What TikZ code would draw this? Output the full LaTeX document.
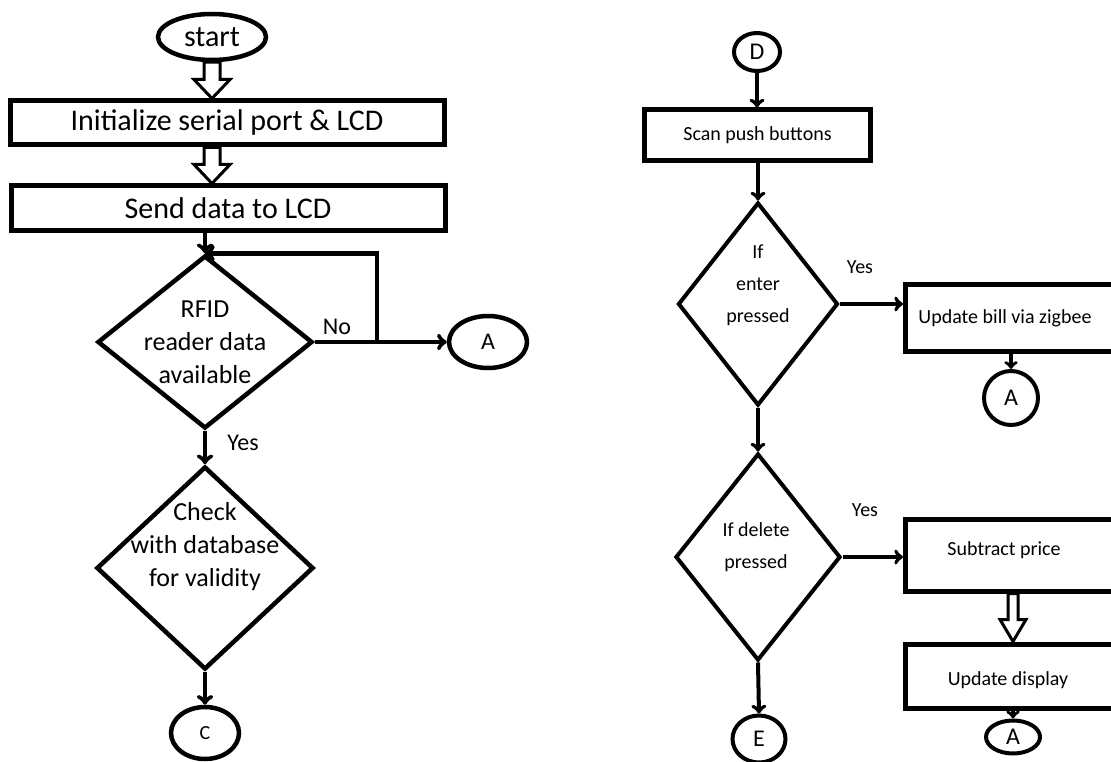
\documentclass[tikz,border=0pt]{standalone}
\usepackage{fontspec}
\setmainfont{Carlito}
\usetikzlibrary{shapes.geometric}

\newcommand{\hollowarrow}[5]{%
  \draw[hollow] ([xshift=-#3]#1) -- ([xshift=-#3,yshift=#5]#2) -- ([xshift=-#4,yshift=#5]#2)
    -- (#2) -- ([xshift=#4,yshift=#5]#2) -- ([xshift=#3,yshift=#5]#2) -- ([xshift=#3]#1) -- cycle;}

\begin{document}
\begin{tikzpicture}[x=1pt,y=-1pt,
  big/.style={font=\fontsize{30}{36}\selectfont},
  mid/.style={font=\fontsize{26}{33}\selectfont},
  lbl/.style={font=\fontsize{24}{30}\selectfont},
  small/.style={font=\fontsize{20}{32}\selectfont},
  terminal/.style={draw,ellipse,line width=4.5pt,inner sep=0pt},
  process/.style={draw,rectangle,line width=5pt,inner sep=0pt},
  decision/.style={draw,diamond,line width=4.5pt,inner sep=0pt},
  flow/.style={->,line width=4.5pt},
  hollow/.style={line width=3pt,line join=miter}]
\useasboundingbox (0,0) rectangle (1111,762);
\clip (0,0) rectangle (1111,762);

\node[terminal,big,minimum width=108,minimum height=46] (start) at (212,37) {start};
\node[process,big,minimum width=434,minimum height=44] (init) at (227,123) {Initialize serial port \& LCD};
\node[process,big,minimum width=434,minimum height=45] (send) at (228,208.5) {Send data to LCD};
\node[decision,minimum width=215,minimum height=173] (rfid) at (205,342) {};
\node[mid,align=center] (rfidtxt) at (205,342) {RFID\\reader data\\available};
\node[terminal,lbl,minimum width=78,minimum height=52] (aL) at (488,342) {A};
\coordinate (jn) at (377,342);
\node[lbl] (no) at (337,327) {No};
\node[lbl] (yes1) at (243,443) {Yes};
\node[decision,minimum width=217,minimum height=203] (check) at (205,568) {};
\node[mid,align=center] (checktxt) at (205,547) {Check\\with database\\for validity};
\node[terminal,small,minimum width=68,minimum height=52] (cL) at (205,733) {C};

\node[terminal,lbl,line width=4pt,minimum width=46,minimum height=38] (dD) at (757,52) {D};
\node[process,small,minimum width=226,minimum height=51] (scan) at (757.5,135.5) {Scan push buttons};
\node[decision,line width=4pt,minimum width=160,minimum height=203] (enter) at (758,304) {};
\node[small,align=center] (entertxt) at (758,285) {If\\enter\\pressed};
\node[small] (yes2) at (860,267) {Yes};
\node[process,minimum width=225,minimum height=67] (bill) at (1018,317.5) {};
\node[small] (billtxt) at (1005,318) {Update bill via zigbee};
\node[terminal,lbl,line width=4pt,minimum width=54,minimum height=54] (aR1) at (1011,398) {A};
\node[decision,line width=4pt,minimum width=165,minimum height=207] (del) at (758,557) {};
\node[small,align=center] (deltxt) at (756,547) {If delete\\pressed};
\node[small] (yes3) at (865,510) {Yes};
\node[process,minimum width=225,minimum height=72] (sub) at (1018,555) {};
\node[small] (subtxt) at (1004,550) {Subtract price};
\node[process,minimum width=225,minimum height=64] (upd) at (1018,676) {};
\node[small] (updtxt) at (1008,680) {Update display};
\node[terminal,lbl,line width=4pt,minimum width=54,minimum height=33] (aR2) at (1013,737) {A};
\node[terminal,lbl,line width=4pt,minimum width=53,minimum height=47] (eE) at (759,739) {E};

\coordinate (a1top) at (start.south);
\coordinate (a1tip) at (init.north -| start.south);
\hollowarrow{a1top}{a1tip}{8pt}{18pt}{19pt}
\coordinate (a2top) at (init.south -| start.south);
\coordinate (a2tip) at (send.north -| start.south);
\hollowarrow{a2top}{a2tip}{8pt}{18pt}{19pt}
\draw[flow] (send.south -| rfid.north) -- (rfid.north);
\draw[flow] (rfid.east) -- (aL.west);
\draw[flow] (jn) |- (rfid.north);
\draw[flow] (rfid.south) -- (check.north);
\draw[flow] (check.south) -- (cL.north);

\draw[flow,line width=4pt] (dD.south) -- (scan.north -| dD.south);
\draw[flow,line width=4pt] (scan.south -| enter.north) -- (enter.north);
\draw[flow,line width=4pt] (enter.east) -- (enter.east -| bill.west);
\draw[flow,line width=3.5pt] (bill.south -| aR1.north) -- (aR1.north);
\draw[flow,line width=4pt] (enter.south) -- (del.north);
\draw[flow,line width=4pt] (del.east) -- (del.east -| sub.west);
\draw[flow,line width=4pt] (del.south) -- (eE.north);
\coordinate (a3top) at (sub.south -| aR2.north);
\coordinate (a3tip) at (upd.north -| aR2.north);
\hollowarrow{a3top}{a3tip}{5pt}{13pt}{22pt}
\draw[flow,line width=3.5pt] (upd.south -| aR2.north) -- (aR2.north);
\end{tikzpicture}
\end{document}
